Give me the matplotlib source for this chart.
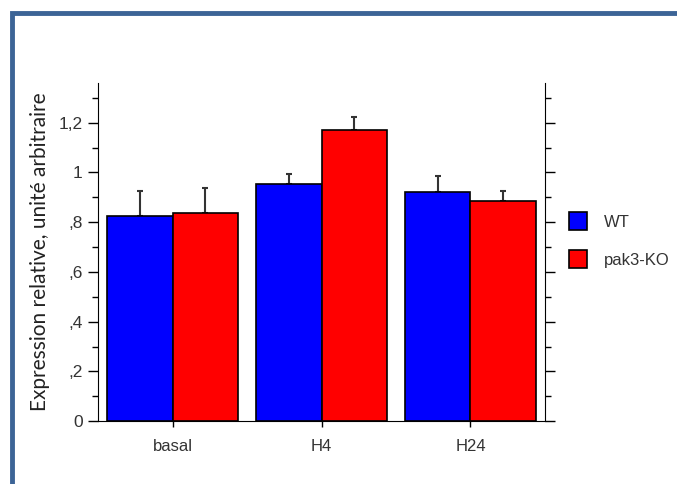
import matplotlib.pyplot as plt
from matplotlib.patches import Rectangle
from matplotlib.ticker import MultipleLocator, FuncFormatter
import numpy as np

groups = ['basal', 'H4', 'H24']
series = ['WT', 'pak3-KO']
wt = [0.827, 0.952, 0.920]
ko = [0.839, 1.169, 0.884]
wt_err = [0.097, 0.040, 0.064]
ko_err = [0.097, 0.056, 0.040]
colors = ['#0000ff', '#ff0000']

narrow = ['Liberation Sans', 'DejaVu Sans']

fig = plt.figure(figsize=(6.77, 4.84), dpi=100)
ax = fig.add_axes([0.1448, 0.130, 0.805 - 0.1448, 0.8285 - 0.130])

x = np.arange(len(groups))
w = 0.44
for i, (vals, errs) in enumerate([(wt, wt_err), (ko, ko_err)]):
    pos = x + (i - 0.5) * w
    ax.bar(pos, vals, width=w, color=colors[i], edgecolor='black', lw=1.2,
           label=series[i], zorder=2)
    ax.errorbar(pos, vals, yerr=[np.zeros(len(vals)), errs], fmt='none',
                ecolor='#333333', elinewidth=1.5, capsize=2.5, capthick=1.5, zorder=1)

ax.set_xlim(-0.5, 2.5)
ax.set_ylim(0, 1.36)
ax.spines['top'].set_visible(False)
ax.yaxis.set_major_locator(MultipleLocator(0.2))
ax.yaxis.set_minor_locator(MultipleLocator(0.1))

def fmt(v, p):
    s = ('%.1f' % v).rstrip('0').rstrip('.')
    if s.startswith('0.'):
        s = s[1:]
    return s.replace('.', ',')

ax.yaxis.set_major_formatter(FuncFormatter(fmt))
ax.set_xticks(x)
ax.set_xticklabels(groups)
ax.tick_params(axis='y', which='major', length=7, width=1, direction='out',
               right=True, labelsize=12.5, pad=4)
ax.tick_params(axis='y', which='minor', length=4, width=1, direction='out', right=True)
ax.tick_params(axis='x', length=4, width=1, labelsize=12, pad=9)
for lab in ax.get_xticklabels() + ax.get_yticklabels():
    lab.set_family(narrow)
    lab.set_color('#333333')

ax.set_ylabel('Expression relative, unité arbitraire', family=['Lato', 'DejaVu Sans'],
              fontsize=15, color='#222222', labelpad=6)

leg = ax.legend(loc='center left', bbox_to_anchor=(1.02, 0.535), frameon=False,
                prop={'family': narrow, 'size': 12}, handlelength=1.1,
                handleheight=1.3, handletextpad=1.0, labelspacing=1.2)
for t in leg.get_texts():
    t.set_color('#333333')

# blue frame around the slide
fig.patches.append(Rectangle((12 / 677, -0.1), 1.2, 1 - 13 / 484 + 0.1,
                             transform=fig.transFigure, fill=False,
                             edgecolor='#3c6496', lw=3.5))

fig.savefig('out.png', dpi=100)
